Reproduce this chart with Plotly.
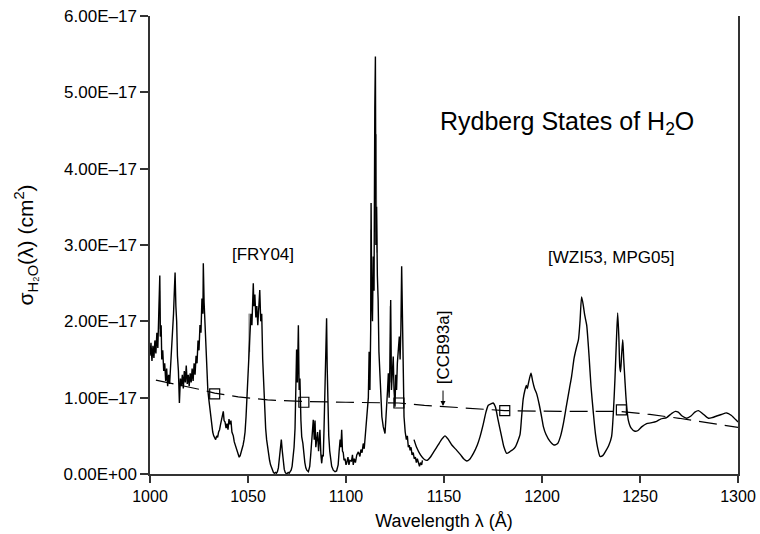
import plotly.graph_objects as go

# ---- data (cross sections in units of 1e-17 cm^2) ----
fry_wl = [1000, 1000.5, 1001, 1001.5, 1002, 1002.5, 1003, 1003.5, 1004, 1004.5, 1005, 1005.3, 1005.7, 1006, 1006.5,
          1007, 1007.5, 1008, 1008.5, 1009, 1009.5, 1010, 1010.5, 1011, 1011.5, 1012, 1012.5, 1012.8, 1013.2, 1013.6,
          1014, 1014.5, 1015, 1015.5, 1016, 1016.5, 1017, 1017.5, 1018, 1018.5, 1019, 1019.5, 1020, 1020.5, 1021,
          1021.5, 1022, 1022.5, 1023, 1023.5, 1024, 1024.5, 1025, 1025.5, 1026, 1026.5, 1027, 1027.2, 1027.6, 1028,
          1028.5, 1029, 1029.5, 1030, 1030.6, 1031, 1031.5, 1032, 1032.5, 1033, 1033.5, 1034, 1034.5, 1035, 1035.5,
          1036, 1036.5, 1037, 1037.4, 1037.8, 1038.3, 1038.8, 1039.3, 1039.8, 1040.3, 1040.8, 1041.3, 1041.8, 1042.5,
          1043, 1043.5, 1044, 1044.5, 1045, 1045.5, 1046, 1046.5, 1047, 1047.5, 1048, 1048.5, 1049, 1049.5, 1050,
          1050.5, 1051, 1051.5, 1052, 1052.3, 1052.7, 1053, 1053.5, 1054, 1054.5, 1055, 1055.5, 1056, 1056.5, 1057,
          1057.5, 1058, 1058.5, 1059, 1059.5, 1060, 1060.5, 1061, 1061.5, 1062, 1062.5, 1063, 1063.5, 1064, 1064.5,
          1065, 1065.5, 1066, 1066.5, 1067, 1067.5, 1068, 1068.5, 1069, 1069.7, 1070.5, 1071, 1071.5, 1072, 1072.5,
          1073, 1073.5, 1074, 1074.4, 1074.8, 1075.2, 1075.7, 1076.1, 1076.5, 1077, 1077.4, 1078, 1078.5, 1079,
          1079.5, 1080, 1080.8, 1081.5, 1082, 1082.5, 1083, 1083.3, 1083.8, 1084.2, 1084.6, 1085, 1085.5, 1086,
          1086.7, 1087.2, 1087.6, 1088, 1088.4, 1088.8, 1089.3, 1089.7, 1090.1, 1090.4, 1090.7, 1091.2, 1091.7,
          1092.2, 1092.7, 1093.5, 1094.4, 1095.2, 1096, 1096.5, 1097, 1097.4, 1097.8, 1098.2, 1098.6, 1099, 1099.5,
          1100, 1100.3, 1101, 1101.5, 1102, 1102.8, 1103.3, 1103.7, 1104.2, 1104.8, 1105.5, 1106.3, 1107.1, 1107.6,
          1108.2, 1108.8, 1109.3, 1109.7, 1110.2, 1110.6, 1111, 1111.4, 1111.8, 1112.2, 1112.6, 1112.8, 1113.1,
          1113.5, 1113.9, 1114.3, 1114.7, 1115, 1115.3, 1115.6, 1116, 1116.4, 1116.8, 1117.3, 1117.8, 1118.3, 1119,
          1119.5, 1119.9, 1120.3, 1120.8, 1121.2, 1121.6, 1122, 1122.4, 1122.8, 1123.2, 1123.6, 1124.1, 1124.5, 1125,
          1125.4, 1125.8, 1126.2, 1126.7, 1127.2, 1127.6, 1128, 1128.4, 1128.8, 1129.2, 1129.6, 1130.2, 1130.8,
          1131.3, 1131.8, 1132.3, 1132.7, 1133.2, 1133.7, 1134.3, 1134.8, 1135.4, 1135.9, 1136.4, 1136.9, 1137.5,
          1138, 1138.6, 1139]
fry_val = [1.55, 1.72, 1.48, 1.68, 1.52, 1.75, 1.58, 1.85, 1.65, 2.05, 2.6, 1.8, 1.95, 1.5, 1.62,
           1.35, 1.45, 1.22, 1.38, 1.15, 1.30, 1.18, 1.40, 1.55, 1.85, 2.1, 2.45, 2.64, 2.2, 2.0,
           1.55, 1.35, 0.93, 1.25, 1.15, 1.30, 1.12, 1.35, 1.2, 1.42, 1.18, 1.30, 1.15, 1.32, 1.2,
           1.38, 1.22, 1.45, 1.3, 1.55, 1.45, 1.75, 1.62, 1.95, 1.85, 2.3, 2.1, 2.76, 2.25, 1.95,
           1.6, 1.35, 1.1, 0.98, 0.85, 0.72, 0.62, 0.55, 0.50, 0.47, 0.45, 0.5, 0.48, 0.55, 0.58,
           0.65, 0.72, 0.78, 0.82, 0.70, 0.68, 0.60, 0.66, 0.58, 0.72, 0.65, 0.7, 0.55, 0.5,
           0.42, 0.38, 0.33, 0.28, 0.25, 0.22, 0.24, 0.28, 0.33, 0.38, 0.45, 0.55, 0.75, 1.0, 1.25,
           1.55, 1.85, 2.1, 1.95, 2.3, 2.5, 2.2, 2.35, 2.05, 2.2, 1.95, 2.15, 2.41, 2.0, 2.1,
           1.5, 1.15, 0.8, 0.6, 0.45, 0.33, 0.25, 0.18, 0.12, 0.08, 0.04, 0.02, 0.01, 0.02, 0.01,
           0.03, 0.08, 0.18, 0.32, 0.45, 0.3, 0.15, 0.06, 0.02, 0.0, 0.02, 0.01, 0.03, 0.05, 0.1,
           0.2, 0.35, 0.6, 1.0, 1.63, 1.2, 1.95, 1.1, 1.25, 0.7, 0.49, 0.4, 0.25, 0.15,
           0.08, 0.05, 0.03, 0.1, 0.25, 0.4, 0.55, 0.71, 0.45, 0.7, 0.35, 0.42, 0.55, 0.3,
           0.58, 0.25, 0.14, 0.25, 0.23, 0.6, 1.2, 1.6, 2.04, 1.4, 0.93, 0.5, 0.3,
           0.15, 0.1, 0.05, 0.03, 0.04, 0.12, 0.3, 0.45, 0.35, 0.58, 0.3, 0.28, 0.18, 0.2,
           0.12, 0.14, 0.22, 0.12, 0.18, 0.17, 0.25, 0.12, 0.2, 0.15, 0.25, 0.29, 0.23, 0.32,
           0.28, 0.4, 0.33, 0.45, 0.6, 0.75, 0.8, 1.0, 1.6, 1.1, 1.9, 3.55, 2.37,
           2.0, 2.85, 2.4, 4.8, 5.47, 3.0, 3.5, 2.6, 2.28, 1.6, 1.32, 0.97, 0.75, 0.62,
           0.55, 0.53, 0.7, 0.88, 1.1, 1.32, 1.0, 1.4, 2.28, 1.1, 1.3, 1.54, 1.1, 0.88,
           1.3, 1.1, 1.45, 1.63, 1.8, 1.5, 1.9, 2.72, 1.76, 1.2, 0.75, 0.55, 0.45,
           0.5, 0.35, 0.38, 0.31, 0.35, 0.25, 0.28, 0.2, 0.22, 0.15, 0.2, 0.14, 0.1,
           0.15, 0.12, 0.18]

# gray high-resolution spikes (None separates individual spikes)
gray_wl = [1004.6, 1004.9, 1005.2, None, 1050.3, 1050.6, 1050.9, None, 1114.9, 1115.4, 1115.8, None,
           1122.3, 1122.6, 1122.9, None, 1112.5, 1112.8, 1113.0]
gray_val = [1.9, 2.4, 1.8, None, 1.5, 2.1, 1.6, None, 3.0, 4.45, 2.9, None,
            1.2, 2.2, 1.2, None, 1.8, 3.2, 2.2]

wzi_wl = [1134.7, 1136, 1138, 1140, 1141.5, 1143, 1145, 1147, 1149, 1150.5, 1152, 1154, 1156.5, 1158.5, 1160,
          1161.6, 1163, 1165, 1167, 1168.4, 1170, 1171.5, 1172.6, 1174, 1175.1, 1176.2, 1177.5, 1179.4, 1180.5,
          1182, 1183.5, 1184.5, 1185.2, 1186.5, 1187.5, 1188.8, 1189.6, 1190.4, 1191.3, 1192, 1192.5, 1193,
          1193.6, 1194.4, 1195.2, 1196.2, 1197.3, 1198.5, 1200, 1200.7, 1202, 1204, 1206.1, 1208, 1209.5,
          1210.9, 1212.5, 1214, 1215.1, 1216.4, 1217.7, 1218.6, 1219.4, 1220.2, 1221, 1221.8, 1222.8, 1224,
          1225, 1226.2, 1227.3, 1228.5, 1229.6, 1231, 1232.5, 1234, 1235.5, 1236.4, 1237.2, 1237.9, 1238.6,
          1239.2, 1239.7, 1240.1, 1240.6, 1241.2, 1241.7, 1242.3, 1243, 1244, 1245.5, 1247.4, 1249, 1251,
          1253.4, 1255.5, 1258.5, 1260.5, 1263.6, 1266, 1268, 1269.5, 1271.5, 1273.8, 1276, 1278, 1279.8,
          1282, 1284.9, 1287, 1289.1, 1291.5, 1294.2, 1296.5, 1299.3, 1300]
wzi_val = [0.45, 0.35, 0.25, 0.19, 0.18, 0.22, 0.3, 0.38, 0.46, 0.50, 0.46, 0.38, 0.31, 0.25, 0.2,
           0.17, 0.19, 0.27, 0.38, 0.49, 0.65, 0.82, 0.90, 0.92, 0.93, 0.88, 0.72, 0.49, 0.36,
           0.27, 0.29, 0.31, 0.32, 0.36, 0.42, 0.52, 0.75, 0.98, 1.10, 1.16, 1.12, 1.18,
           1.25, 1.32, 1.22, 1.12, 1.05, 0.92, 0.72, 0.62, 0.52, 0.43, 0.38, 0.40, 0.5,
           0.66, 0.9, 1.12, 1.28, 1.52, 1.67, 1.76, 2.0, 2.32, 2.22, 2.08, 1.95, 1.55,
           1.15, 0.80, 0.52, 0.33, 0.23, 0.24, 0.3, 0.37, 0.49, 0.8, 1.23, 1.7, 2.11,
           1.8, 1.4, 1.34, 1.55, 1.76, 1.5, 1.23, 0.95, 0.71, 0.6, 0.56, 0.57, 0.62,
           0.66, 0.67, 0.69, 0.72, 0.74, 0.79, 0.82, 0.81, 0.76, 0.73, 0.76, 0.81, 0.83,
           0.79, 0.73, 0.74, 0.76, 0.78, 0.80, 0.77, 0.70, 0.68]

ccb_wl = [1003, 1015, 1025, 1033, 1045, 1060, 1078, 1100, 1127, 1140, 1160, 1181, 1210, 1240, 1255, 1270, 1285, 1300]
ccb_val = [1.23, 1.17, 1.11, 1.06, 1.01, 0.97, 0.95, 0.94, 0.93, 0.90, 0.87, 0.83, 0.82, 0.82, 0.78, 0.73, 0.67, 0.61]

sq_wl = [1033, 1078.5, 1127, 1181, 1240.5]
sq_val = [1.05, 0.94, 0.93, 0.83, 0.84]

y_ticks = [0, 1, 2, 3, 4, 5, 6]
y_ticktext = ["0.00E+00", "1.00E–17", "2.00E–17", "3.00E–17", "4.00E–17", "5.00E–17", "6.00E–17"]
x_ticks = [1000, 1050, 1100, 1150, 1200, 1250, 1300]

S = 1e-17
FONT = "Liberation Sans, Arial, sans-serif"

fig = go.Figure()
fig.add_trace(go.Scatter(x=gray_wl, y=[None if v is None else v * S for v in gray_val], mode="lines",
                         connectgaps=False, line=dict(color="#8a8a8a", width=1), showlegend=False))
fig.add_trace(go.Scatter(x=fry_wl, y=[v * S for v in fry_val], mode="lines",
                         line=dict(color="black", width=1.4), showlegend=False))
fig.add_trace(go.Scatter(x=wzi_wl, y=[v * S for v in wzi_val], mode="lines",
                         line=dict(color="black", width=1.4, shape="spline", smoothing=0.6), showlegend=False))
fig.add_trace(go.Scatter(x=ccb_wl, y=[v * S for v in ccb_val], mode="lines",
                         line=dict(color="black", width=1.2, dash="18px,8px"), showlegend=False))
fig.add_trace(go.Scatter(x=sq_wl, y=[v * S for v in sq_val], mode="markers",
                         marker=dict(symbol="square-open", size=10, color="black", line=dict(width=1.2)),
                         showlegend=False))

fig.add_annotation(x=1212.8, y=4.60 * S, text="Rydberg States of H<sub>2</sub>O", showarrow=False,
                   font=dict(size=25, family=FONT, color="black"), xanchor="center", yanchor="middle")
fig.add_annotation(x=1057.6, y=2.88 * S, text="[FRY04]", showarrow=False,
                   font=dict(size=17, family=FONT, color="black"), xanchor="center", yanchor="middle")
fig.add_annotation(x=1235.7, y=2.84 * S, text="[WZI53, MPG05]", showarrow=False,
                   font=dict(size=17, family=FONT, color="black"), xanchor="center", yanchor="middle")
fig.add_annotation(x=1149.5, y=1.66 * S, text="[CCB93a]", showarrow=False, textangle=-90,
                   font=dict(size=17, family=FONT, color="black"), xanchor="center", yanchor="middle")
# arrow pointing down to the dashed curve
fig.add_annotation(x=1149.5, y=0.89 * S, ax=0, ay=-17, text="", showarrow=True,
                   arrowhead=2, arrowsize=1, arrowwidth=1, arrowcolor="black", standoff=0)

fig.update_layout(
    width=760, height=534,
    margin=dict(l=150, r=22, t=16, b=60),
    paper_bgcolor="white", plot_bgcolor="white",
    font=dict(family=FONT, size=16, color="black"),
    xaxis=dict(range=[1000, 1300], tickvals=x_ticks, ticks="outside", ticklen=7, tickwidth=1.5,
               tickcolor="#333", showline=True, linecolor="#333", linewidth=1.5, showgrid=False,
               zeroline=False, mirror=False, automargin=False, tickfont=dict(size=16, family=FONT),
               title=dict(text="Wavelength λ (Å)", font=dict(size=18, family=FONT), standoff=10)),
    yaxis=dict(range=[0, 6 * S], tickvals=[v * S for v in y_ticks], ticktext=y_ticktext, ticks="outside",
               ticklen=8, tickwidth=1.5, tickcolor="#333", showline=True, linecolor="#333", linewidth=1.5,
               showgrid=False, zeroline=False, mirror=True, automargin=False, tickfont=dict(size=17, family=FONT),
               title=dict(text="σ<sub>H₂O</sub>(λ) (cm<sup>2</sup>)", font=dict(size=21, family=FONT), standoff=24)),
)

fig.write_html("out.html", config={"displayModeBar": False},
               post_script="document.body.style.margin='0';document.body.style.padding='0';")
